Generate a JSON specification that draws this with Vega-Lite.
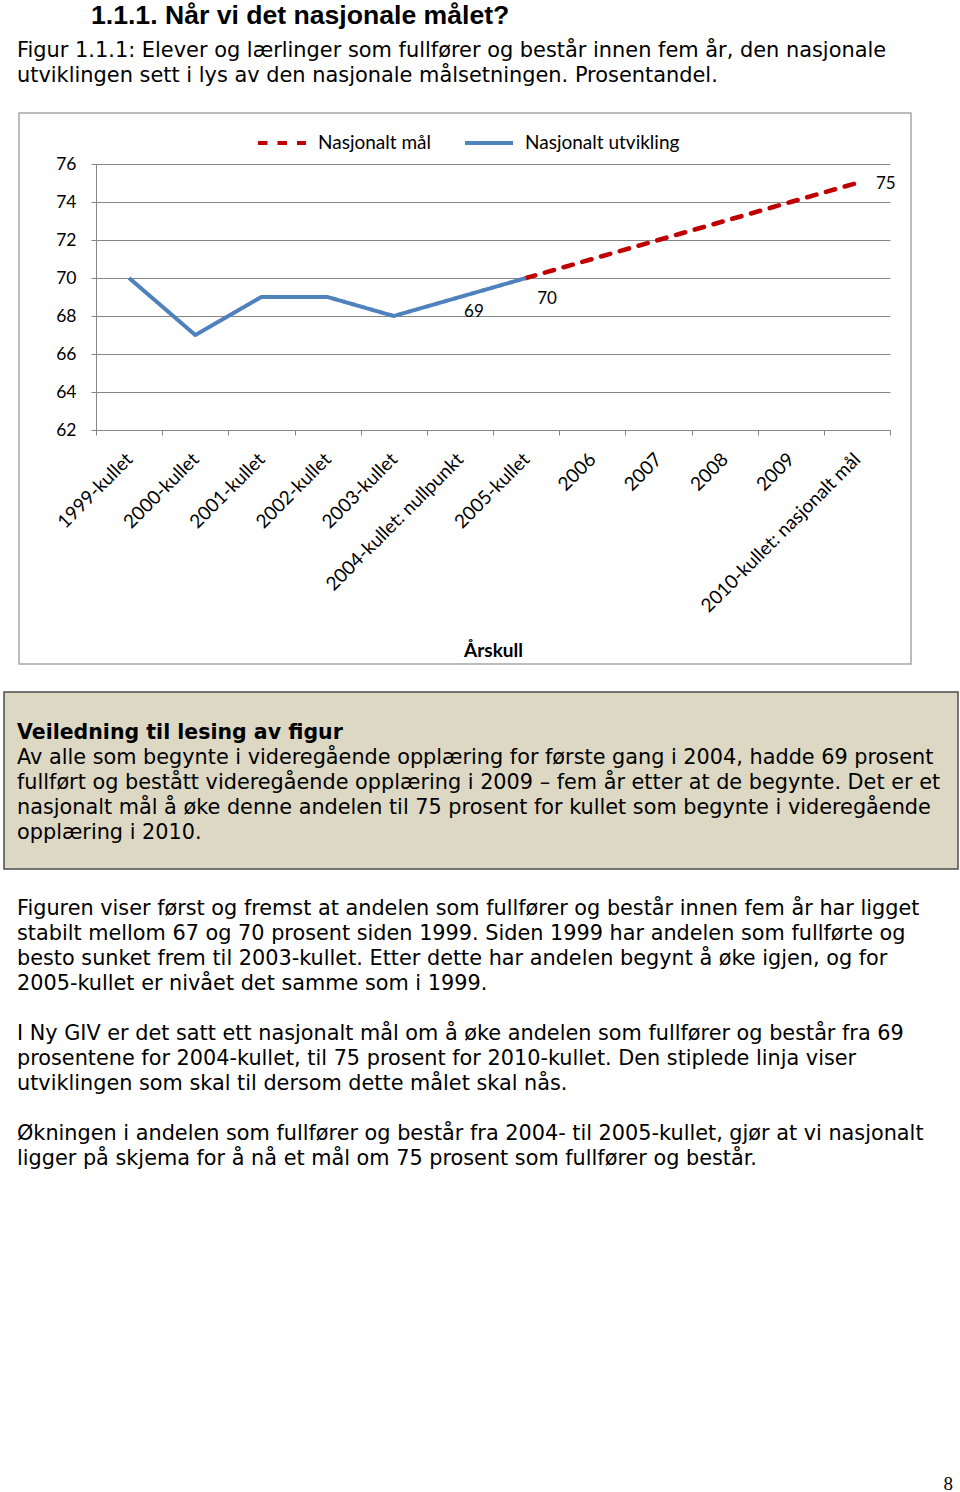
{
  "$schema": "https://vega.github.io/schema/vega-lite/v6.json",
  "background": "white",
  "padding": {"left": 3, "top": 0, "right": 0, "bottom": 0},
  "spacing": 0,
  "resolve": {"scale": {"color": "independent", "strokeDash": "independent"}},
  "config": {"view": {"stroke": null}},
  "vconcat": [
    {
      "width": 954,
      "height": 32,
      "data": {"values": [{"tekst": "1.1.1. Når vi det nasjonale målet?"}]},
      "mark": {"type": "text", "align": "left", "baseline": "middle", "font": "Liberation Sans", "fontWeight": "bold", "fontSize": 26.6, "dx": 87, "color": "#000000"},
      "encoding": {
        "x": {"datum": 0, "type": "quantitative", "scale": {"domain": [0, 1]}, "axis": null},
        "text": {"field": "tekst"}
      }
    },
    {
      "width": 954,
      "height": 80,
      "data": {"values": [
        {"linje": 0, "tekst": "Figur 1.1.1: Elever og lærlinger som fullfører og består innen fem år, den nasjonale"},
        {"linje": 1, "tekst": "utviklingen sett i lys av den nasjonale målsetningen. Prosentandel."}
      ]},
      "mark": {"type": "text", "align": "left", "baseline": "middle", "font": "DejaVu Sans", "fontSize": 20.9, "dx": 13, "color": "#000000"},
      "encoding": {
        "x": {"datum": 0, "type": "quantitative", "scale": {"domain": [0, 1]}, "axis": null},
        "y": {"field": "linje", "type": "quantitative", "scale": {"domain": [-0.76, 2.44], "reverse": true, "nice": false, "zero": false}, "axis": null},
        "text": {"field": "tekst"}
      }
    },
    {
      "spacing": 0,
      "resolve": {"scale": {"color": "independent", "strokeDash": "independent"}},
      "hconcat": [
        {
          "width": 7,
          "height": 578,
          "data": {"values": [{}]},
          "mark": {"type": "point", "opacity": 0}
        },
        {
          "width": 892,
          "height": 551,
          "view": {"stroke": "#a6a6a6", "strokeWidth": 1.5},
          "data": {"values": [
            {"kull": "1999-kullet", "serie": "Nasjonalt utvikling", "andel": 70},
            {"kull": "2000-kullet", "serie": "Nasjonalt utvikling", "andel": 67},
            {"kull": "2001-kullet", "serie": "Nasjonalt utvikling", "andel": 69},
            {"kull": "2002-kullet", "serie": "Nasjonalt utvikling", "andel": 69},
            {"kull": "2003-kullet", "serie": "Nasjonalt utvikling", "andel": 68},
            {"kull": "2004-kullet: nullpunkt", "serie": "Nasjonalt utvikling", "andel": 69},
            {"kull": "2005-kullet", "serie": "Nasjonalt utvikling", "andel": 70},
            {"kull": "2005-kullet", "serie": "Nasjonalt mål", "andel": 70},
            {"kull": "2006", "serie": "Nasjonalt mål", "andel": 71},
            {"kull": "2007", "serie": "Nasjonalt mål", "andel": 72},
            {"kull": "2008", "serie": "Nasjonalt mål", "andel": 73},
            {"kull": "2009", "serie": "Nasjonalt mål", "andel": 74},
            {"kull": "2010-kullet: nasjonalt mål", "serie": "Nasjonalt mål", "andel": 75}
          ]},
          "encoding": {
            "x": {
              "field": "kull", "type": "nominal",
              "scale": {"type": "band", "domain": ["1999-kullet", "2000-kullet", "2001-kullet", "2002-kullet", "2003-kullet", "2004-kullet: nullpunkt", "2005-kullet", "2006", "2007", "2008", "2009", "2010-kullet: nasjonalt mål"], "range": [77, 871], "paddingInner": 0, "paddingOuter": 0},
              "axis": {
                "orient": "bottom", "offset": -234, "title": "Årskull",
                "titleFont": "Lato", "titleFontWeight": "bold", "titleFontSize": 19, "titleColor": "#000000", "titlePadding": 26,
                "labelAngle": -45, "labelAlign": "right", "labelBaseline": "middle", "labelFont": "Lato", "labelFontSize": 19, "labelColor": "#000000", "labelPadding": 21, "labelLimit": 400, "labelOverlap": false, "labelBound": false, "labelFlush": false,
                "tickBand": "extent", "ticks": true, "tickSize": 5, "tickColor": "#868686", "domainColor": "#868686", "domainWidth": 1, "grid": false
              }
            },
            "y": {
              "field": "andel", "type": "quantitative",
              "scale": {"domain": [62, 76], "range": [317, 51], "nice": false, "zero": false},
              "axis": {
                "orient": "left", "offset": -77, "values": [62, 64, 66, 68, 70, 72, 74, 76], "title": null,
                "grid": true, "gridColor": "#868686", "gridWidth": 1,
                "domainColor": "#868686", "tickColor": "#868686", "tickSize": 5,
                "labelFont": "Lato", "labelFontSize": 17.5, "labelColor": "#000000", "labelPadding": 15
              }
            }
          },
          "layer": [
            {
              "transform": [{"filter": "datum.serie == 'Nasjonalt mål'"}],
              "mark": {"type": "line", "strokeWidth": 4.6, "strokeCap": "round", "strokeJoin": "round"},
              "encoding": {
                "color": {"field": "serie", "type": "nominal", "scale": {"domain": ["Nasjonalt mål", "Nasjonalt utvikling"], "range": ["#c00000", "#4f81bd"]},
                  "legend": {"orient": "none", "legendX": 237, "legendY": 4, "direction": "horizontal", "title": null, "symbolType": "stroke", "symbolSize": 2304, "symbolStrokeWidth": 4, "labelFont": "Lato", "labelFontSize": 19, "labelColor": "#000000", "labelOffset": 10, "columnPadding": 26, "padding": 0}},
                "strokeDash": {"field": "serie", "type": "nominal", "scale": {"domain": ["Nasjonalt mål", "Nasjonalt utvikling"], "range": [[9.5, 10], [1, 0]]},
                  "legend": {"orient": "none", "legendX": 237, "legendY": 4, "direction": "horizontal", "title": null, "symbolType": "stroke", "symbolSize": 2304, "symbolStrokeWidth": 4, "labelFont": "Lato", "labelFontSize": 19, "labelColor": "#000000", "labelOffset": 10, "columnPadding": 26, "padding": 0}}
              }
            },
            {
              "transform": [{"filter": "datum.serie == 'Nasjonalt utvikling'"}],
              "mark": {"type": "line", "strokeWidth": 4, "strokeJoin": "round"},
              "encoding": {
                "color": {"field": "serie", "type": "nominal"},
                "strokeDash": {"field": "serie", "type": "nominal"}
              }
            },
            {
              "transform": [{"filter": "datum.serie == 'Nasjonalt utvikling' && datum.kull == '2004-kullet: nullpunkt'"}],
              "mark": {"type": "text", "align": "center", "baseline": "middle", "dx": 14, "dy": 15, "font": "Lato", "fontSize": 17, "color": "#000000"},
              "encoding": {"text": {"field": "andel", "type": "quantitative"}}
            },
            {
              "transform": [{"filter": "datum.serie == 'Nasjonalt utvikling' && datum.kull == '2005-kullet'"}],
              "mark": {"type": "text", "align": "center", "baseline": "middle", "dx": 21, "dy": 21, "font": "Lato", "fontSize": 17, "color": "#000000"},
              "encoding": {"text": {"field": "andel", "type": "quantitative"}}
            },
            {
              "transform": [{"filter": "datum.kull == '2010-kullet: nasjonalt mål'"}],
              "mark": {"type": "text", "align": "left", "baseline": "middle", "dx": 19, "dy": 1, "font": "Lato", "fontSize": 17, "color": "#000000"},
              "encoding": {"text": {"field": "andel", "type": "quantitative"}}
            }
          ]
        }
      ]
    },
    {
      "width": 954,
      "height": 177,
      "view": {"fill": "#ddd8c4", "stroke": "#4d4d4d", "strokeWidth": 1.5},
      "data": {"values": [
        {"linje": 0, "tekst": "Veiledning til lesing av figur"},
        {"linje": 1, "tekst": "Av alle som begynte i videregående opplæring for første gang i 2004, hadde 69 prosent"},
        {"linje": 2, "tekst": "fullført og bestått videregående opplæring i 2009 – fem år etter at de begynte. Det er et"},
        {"linje": 3, "tekst": "nasjonalt mål å øke denne andelen til 75 prosent for kullet som begynte i videregående"},
        {"linje": 4, "tekst": "opplæring i 2010."}
      ]},
      "encoding": {
        "x": {"datum": 0, "type": "quantitative", "scale": {"domain": [0, 1]}, "axis": null},
        "y": {"field": "linje", "type": "quantitative", "scale": {"domain": [-1.64, 5.44], "reverse": true, "nice": false, "zero": false}, "axis": null},
        "text": {"field": "tekst"}
      },
      "layer": [
        {
          "transform": [{"filter": "datum.linje == 0"}],
          "mark": {"type": "text", "align": "left", "baseline": "middle", "font": "DejaVu Sans", "fontWeight": "bold", "fontSize": 20.5, "dx": 13, "color": "#000000"}
        },
        {
          "transform": [{"filter": "datum.linje > 0"}],
          "mark": {"type": "text", "align": "left", "baseline": "middle", "font": "DejaVu Sans", "fontSize": 20.8, "dx": 13, "color": "#000000"}
        }
      ]
    },
    {
      "width": 954,
      "height": 622,
      "data": {"values": [
        {"linje": 0, "tekst": "Figuren viser først og fremst at andelen som fullfører og består innen fem år har ligget"},
        {"linje": 1, "tekst": "stabilt mellom 67 og 70 prosent siden 1999. Siden 1999 har andelen som fullførte og"},
        {"linje": 2, "tekst": "besto sunket frem til 2003-kullet. Etter dette har andelen begynt å øke igjen, og for"},
        {"linje": 3, "tekst": "2005-kullet er nivået det samme som i 1999."},
        {"linje": 5, "tekst": "I Ny GIV er det satt ett nasjonalt mål om å øke andelen som fullfører og består fra 69"},
        {"linje": 6, "tekst": "prosentene for 2004-kullet, til 75 prosent for 2010-kullet. Den stiplede linja viser"},
        {"linje": 7, "tekst": "utviklingen som skal til dersom dette målet skal nås."},
        {"linje": 9, "tekst": "Økningen i andelen som fullfører og består fra 2004- til 2005-kullet, gjør at vi nasjonalt"},
        {"linje": 10, "tekst": "ligger på skjema for å nå et mål om 75 prosent som fullfører og består."},
        {"linje": 23, "tekst": "8"}
      ]},
      "encoding": {
        "y": {"field": "linje", "type": "quantitative", "scale": {"domain": [-1.56, 23.32], "reverse": true, "nice": false, "zero": false}, "axis": null},
        "text": {"field": "tekst"}
      },
      "layer": [
        {
          "transform": [{"filter": "datum.linje < 20"}],
          "mark": {"type": "text", "align": "left", "baseline": "middle", "font": "DejaVu Sans", "fontSize": 20.8, "dx": 13, "color": "#000000"},
          "encoding": {"x": {"datum": 0, "type": "quantitative", "scale": {"domain": [0, 1]}, "axis": null}}
        },
        {
          "transform": [{"filter": "datum.linje > 20"}],
          "mark": {"type": "text", "align": "right", "baseline": "middle", "font": "Liberation Serif", "fontSize": 19, "dx": -5, "color": "#000000"},
          "encoding": {"x": {"datum": 1, "type": "quantitative", "scale": {"domain": [0, 1]}, "axis": null}}
        }
      ]
    }
  ]
}
